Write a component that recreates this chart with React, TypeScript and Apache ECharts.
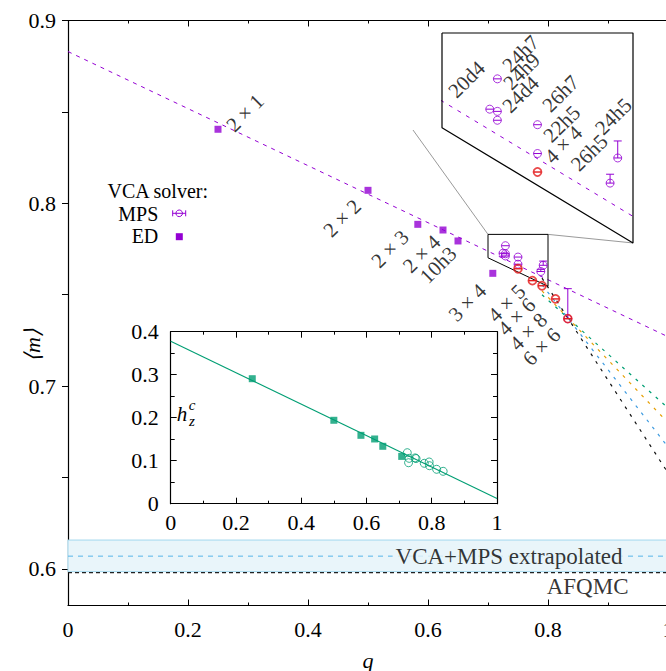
import React, { useEffect, useRef } from "react";
import * as echarts from "echarts";

const FONT = "Liberation Serif";
const PURPLE = "#9400d3";
const RED = "#e41a1c";
const GREEN = "#009e73";
const SKY = "#56b4e9";

// main panel: fit line through ED points
const fitQ = [0, 1];
const fitM = [0.883, 0.727];

// ED clusters
const edNames = ["2 × 1", "2 × 2", "2 × 3", "2 × 4", "10h3", "3 × 4"];
const edQ = [0.25, 0.5, 0.583, 0.625, 0.65, 0.708];
const edM = [0.8405, 0.8071, 0.7885, 0.7854, 0.7794, 0.7617];

// MPS clusters (purple)
const mpsNames = ["20d4", "24h7", "24h9", "24d4", "26h7", "22h5", "24h5", "26h5", "6 × 6"];
const mpsQ = [0.725, 0.729, 0.729, 0.729, 0.75, 0.75, 0.792, 0.788, 0.833];
const mpsM = [0.7727, 0.7768, 0.7724, 0.7712, 0.7706, 0.7667, 0.7661, 0.7627, 0.7369];
const mpsErr = [0, 0, 0, 0, 0, 0, 0.0023, 0.0012, 0.0164];

// rectangular MPS clusters (red)
const rectNames = ["4 × 4", "4 × 5", "4 × 6", "4 × 8", "6 × 6"];
const rectQ = [0.75, 0.774, 0.79, 0.8125, 0.833];
const rectM = [0.7642, 0.7577, 0.7549, 0.7477, 0.7369];

// extrapolation lines from q=0.79 to q=1
const extrapQ = [0.79, 1];
const extrapGreen = [0.75, 0.688];
const extrapOrange = [0.7521, 0.68];
const extrapBlue = [0.7555, 0.6667];
const extrapBlack = [0.7591, 0.6525];

// reference values
const bandLow = 0.5985;
const bandHigh = 0.6158;
const bandMid = 0.607;
const afqmc = 0.598;

// zoom box (same polygon in both coordinate systems)
const boxQ = [0.7, 0.8, 0.8, 0.7, 0.7];
const boxM = [0.783, 0.783, 0.7546, 0.7702, 0.783];
const conn1Q = [0.575, 0.7];
const conn1M = [0.8401, 0.783];
const conn2Q = [0.8, 0.9417];
const conn2M = [0.783, 0.7783];

// cluster labels (main panel)
const labText = ["2 × 1", "2 × 2", "2 × 3", "2 × 4", "10h3", "3 × 4", "4 × 5", "4 × 6", "4 × 8", "6 × 6"];
const labQ = [0.295, 0.457, 0.5367, 0.5895, 0.617, 0.6658, 0.7312, 0.7478, 0.7672, 0.7895];
const labM = [0.8494, 0.7918, 0.775, 0.7723, 0.7663, 0.7457, 0.7453, 0.738, 0.7298, 0.7216];

// cluster labels (zoomed inset)
const zLabText = ["20d4", "24h7", "24h9", "24d4", "26h7", "22h5", "4 × 4", "26h5", "24h5"];
const zLabQ = [0.7129, 0.7412, 0.7417, 0.7412, 0.7621, 0.7627, 0.7635, 0.7771, 0.7897];
const zLabM = [0.7767, 0.7802, 0.7778, 0.7747, 0.7748, 0.7707, 0.7679, 0.7668, 0.7717];

// lower inset: h_z^c vs q
const hzFitQ = [0, 1];
const hzFitV = [0.378, 0.012];
const hzEdQ = [0.25, 0.5, 0.583, 0.625, 0.65, 0.708];
const hzEdV = [0.2907, 0.194, 0.159, 0.1505, 0.1335, 0.11];
const hzMpsQ = [0.725, 0.731, 0.729, 0.749, 0.752, 0.777, 0.792, 0.793, 0.815, 0.835];
const hzMpsV = [0.1186, 0.1055, 0.0953, 0.1065, 0.105, 0.094, 0.097, 0.0884, 0.08, 0.0753];

const mainYLabels = [0.6, 0.7, 0.8, 0.9];
const mainYTicks = [0.6, 0.65, 0.7, 0.75, 0.8, 0.85, 0.9];

const zip = (a: number[], b: number[]) => a.map((v, i) => [v, b[i]]);

function fmt(v: number) {
  if (Math.abs(v) < 1e-9) return "0";
  if (Math.abs(v - 1) < 1e-9) return "1";
  return v.toFixed(1);
}

function inBox(q: number, m: number) {
  const bottom = boxM[3] + ((q - boxQ[0]) * (boxM[2] - boxM[3])) / (boxQ[1] - boxQ[0]);
  return q >= boxQ[0] && q <= boxQ[1] && m <= boxM[0] && m >= bottom;
}

function errRender(color: string, lw: number, cap: number) {
  return (params: any, api: any) => {
    const q = api.value(0);
    const m = api.value(1);
    const e = api.value(2);
    const p0 = api.coord([q, m]);
    const p1 = api.coord([q, m + e]);
    const style = { stroke: color, lineWidth: lw, fill: "none" };
    const children: any[] = [
      { type: "line", shape: { x1: p0[0] - cap, y1: p0[1], x2: p0[0] + cap, y2: p0[1] }, style },
    ];
    if (e > 0) {
      children.push({ type: "line", shape: { x1: p0[0], y1: p0[1], x2: p1[0], y2: p1[1] }, style });
      children.push({ type: "line", shape: { x1: p1[0] - cap, y1: p1[1], x2: p1[0] + cap, y2: p1[1] }, style });
    }
    return { type: "group", children };
  };
}

export default function App() {
  const ref = useRef<HTMLDivElement>(null);
  useEffect(() => {
    const chart = echarts.init(ref.current!, undefined, { renderer: "svg" });

    const tickLbl = { color: "#000", fontFamily: FONT, fontSize: 22 };
    const rotLbl = { color: "#000", fontFamily: FONT, fontSize: 21 };
    const black = { color: "#000", width: 1.2 };

    const lineS = (xi: number, data: number[][], ls: any, z = 3, clip = true) => ({
      type: "line",
      xAxisIndex: xi,
      yAxisIndex: xi,
      data,
      symbol: "none",
      showSymbol: false,
      silent: true,
      clip,
      z,
      lineStyle: ls,
    });

    const circleS = (xi: number, data: number[][], color: string, bw: number, z: number) => ({
      type: "scatter",
      xAxisIndex: xi,
      yAxisIndex: xi,
      data,
      symbol: "circle",
      symbolSize: 8,
      silent: true,
      z,
      itemStyle: { color: "rgba(0,0,0,0)", borderColor: color, borderWidth: bw },
    });

    const errS = (xi: number, data: number[][], color: string, lw: number, z: number) => ({
      type: "custom",
      xAxisIndex: xi,
      yAxisIndex: xi,
      data,
      silent: true,
      z,
      renderItem: errRender(color, lw, 4),
    });

    const labelS = (xi: number, text: string[], q: number[], m: number[]) => ({
      type: "scatter",
      xAxisIndex: xi,
      yAxisIndex: xi,
      symbolSize: 1,
      silent: true,
      z: 8,
      itemStyle: { color: "rgba(0,0,0,0)" },
      label: { show: true, position: "inside", rotate: 45, formatter: "{b}", ...rotLbl },
      data: text.map((t, i) => ({ name: t, value: [q[i], m[i]] })),
    });

    const mpsData = mpsQ.map((q, i) => [q, mpsM[i], mpsErr[i]]);
    const rectData = rectQ.map((q, i) => [q, rectM[i], 0]);
    const mpsIn = mpsData.filter((d) => inBox(d[0], d[1]));
    const rectIn = rectData.filter((d) => inBox(d[0], d[1]));

    const tickAxisX = (gi: number, pos: string, labels: boolean) => ({
      type: "value",
      gridIndex: gi,
      position: pos,
      min: 0,
      max: 1,
      interval: 0.2,
      axisLine: { show: true, onZero: false, lineStyle: black },
      axisTick: { show: true, inside: true, length: 6, lineStyle: { color: "#000" } },
      minorTick: { show: true, splitNumber: 2, length: 3, lineStyle: { color: "#000" } },
      axisLabel: { show: labels, formatter: fmt, margin: gi === 0 ? 13 : 8, ...tickLbl },
      splitLine: { show: false },
      minorSplitLine: { show: false },
    });

    const option: any = {
      animation: false,
      backgroundColor: "#fff",
      textStyle: { fontFamily: FONT },
      grid: [
        { left: 68, top: 20.5, width: 600, height: 585 },
        { left: 170.7, top: 331.7, width: 326.3, height: 172 },
        { left: 442, top: 33, width: 191, height: 210 },
      ],
      xAxis: [
        tickAxisX(0, "bottom", true),
        tickAxisX(1, "bottom", true),
        { type: "value", gridIndex: 2, min: 0.7, max: 0.8, show: false },
        tickAxisX(0, "top", false),
        tickAxisX(1, "top", false),
      ],
      yAxis: [
        {
          type: "value",
          gridIndex: 0,
          min: 0.58,
          max: 0.9,
          axisLine: { show: true, onZero: false, lineStyle: black },
          axisTick: { show: true, inside: false, length: 6, customValues: mainYTicks, lineStyle: { color: "#000" } },
          axisLabel: { customValues: mainYLabels, formatter: (v: number) => v.toFixed(1), margin: 12, ...tickLbl },
          splitLine: { show: false },
        },
        {
          type: "value",
          gridIndex: 1,
          min: 0,
          max: 0.4,
          interval: 0.1,
          axisLine: { show: true, onZero: false, lineStyle: black },
          axisTick: { show: true, inside: true, length: 6, lineStyle: { color: "#000" } },
          minorTick: { show: true, splitNumber: 2, length: 4, lineStyle: { color: "#000" } },
          axisLabel: { formatter: fmt, margin: 12, ...tickLbl },
          splitLine: { show: false },
          minorSplitLine: { show: false },
        },
        { type: "value", gridIndex: 2, min: 0.7546, max: 0.783, show: false },
        {
          type: "value",
          gridIndex: 1,
          position: "right",
          min: 0,
          max: 0.4,
          interval: 0.1,
          axisLine: { show: true, onZero: false, lineStyle: black },
          axisTick: { show: true, inside: true, length: 6, lineStyle: { color: "#000" } },
          minorTick: { show: true, splitNumber: 2, length: 4, lineStyle: { color: "#000" } },
          axisLabel: { show: false },
          splitLine: { show: false },
        },
      ],
      series: [
        // band + VCA+MPS extrapolated line
        {
          ...lineS(0, zip(fitQ, [bandMid, bandMid]), { color: SKY, width: 1, type: [5, 5] }, 2),
          markArea: {
            silent: true,
            itemStyle: { color: "#e9f5fa", borderColor: "#a3d8ee", borderWidth: 1 },
            data: [[{ yAxis: bandLow }, { yAxis: bandHigh }]],
          },
        },
        lineS(0, zip(fitQ, [afqmc, afqmc]), { color: "#222", width: 1.2, type: [4, 3] }, 2),
        // fit line
        lineS(0, zip(fitQ, fitM), { color: PURPLE, width: 1, type: [4, 5] }),
        // extrapolations
        lineS(0, zip(extrapQ, extrapGreen), { color: GREEN, width: 1.2, type: [3, 6] }),
        lineS(0, zip(extrapQ, extrapOrange), { color: "#e69f00", width: 1.2, type: [3, 6] }),
        lineS(0, zip(extrapQ, extrapBlue), { color: "#3d9be0", width: 1.2, type: [3, 6] }),
        lineS(0, zip(extrapQ, extrapBlack), { color: "#111", width: 1.2, type: [3, 6] }),
        // connectors and zoom box
        lineS(0, zip(conn1Q, conn1M), { color: "#9a9a9a", width: 1 }),
        lineS(0, zip(conn2Q, conn2M), { color: "#9a9a9a", width: 1 }),
        lineS(0, zip(boxQ, boxM), { color: "#000", width: 1 }, 4, false),
        // ED squares
        {
          type: "scatter",
          xAxisIndex: 0,
          yAxisIndex: 0,
          symbol: "rect",
          symbolSize: 7,
          silent: true,
          z: 5,
          itemStyle: { color: PURPLE },
          data: edQ.map((q, i) => ({ name: edNames[i], value: [q, edM[i]] })),
        },
        circleS(0, mpsData.map((d) => [d[0], d[1]]), PURPLE, 1, 5),
        errS(0, mpsData, PURPLE, 1, 5),
        circleS(0, rectData.map((d) => [d[0], d[1]]), RED, 1.7, 6),
        errS(0, rectData, RED, 1.4, 6),
        labelS(0, labText, labQ, labM),
        // band labels
        {
          type: "scatter",
          xAxisIndex: 0,
          yAxisIndex: 0,
          symbolSize: 1,
          silent: true,
          z: 7,
          itemStyle: { color: "rgba(0,0,0,0)" },
          label: {
            show: true,
            position: "left",
            distance: 0,
            formatter: "{b}",
            backgroundColor: "#e9f5fa",
            padding: [1, 3, 0, 3],
            color: "#000",
            fontFamily: FONT,
            fontSize: 23,
          },
          data: [
            { name: "VCA+MPS extrapolated", value: [0.93, bandMid] },
            { name: "AFQMC", value: [0.935, 0.5903], label: { backgroundColor: "transparent", padding: 0 } },
          ],
        },
        // lower inset
        lineS(1, zip(hzFitQ, hzFitV), { color: GREEN, width: 1.1 }),
        {
          type: "scatter",
          xAxisIndex: 1,
          yAxisIndex: 1,
          symbol: "rect",
          symbolSize: 7,
          silent: true,
          z: 5,
          itemStyle: { color: GREEN },
          data: zip(hzEdQ, hzEdV),
        },
        circleS(1, zip(hzMpsQ, hzMpsV), GREEN, 1, 5),
        // zoomed inset
        lineS(2, zip(boxQ, boxM), { color: "#000", width: 1.2 }, 4, false),
        lineS(2, zip(fitQ, fitM), { color: PURPLE, width: 1, type: [4, 6] }),
        circleS(2, mpsIn.map((d) => [d[0], d[1]]), PURPLE, 1, 5),
        errS(2, mpsIn, PURPLE, 1, 5),
        circleS(2, rectIn.map((d) => [d[0], d[1]]), RED, 1.7, 6),
        errS(2, rectIn, RED, 1.4, 6),
        labelS(2, zLabText, zLabQ, zLabM),
      ],
      graphic: [
        { type: "text", x: 208, y: 191.2, style: { text: "VCA solver:", font: `20px ${FONT}`, fill: "#000", textAlign: "right", textVerticalAlign: "middle" } },
        { type: "text", x: 158.3, y: 213.5, style: { text: "MPS", font: `20px ${FONT}`, fill: "#000", textAlign: "right", textVerticalAlign: "middle" } },
        { type: "text", x: 158.3, y: 236, style: { text: "ED", font: `20px ${FONT}`, fill: "#000", textAlign: "right", textVerticalAlign: "middle" } },
        { type: "line", shape: { x1: 172.7, y1: 213.3, x2: 185.7, y2: 213.3 }, style: { stroke: PURPLE, lineWidth: 1 } },
        { type: "line", shape: { x1: 172.7, y1: 210.3, x2: 172.7, y2: 216.3 }, style: { stroke: PURPLE, lineWidth: 1 } },
        { type: "line", shape: { x1: 185.7, y1: 210.3, x2: 185.7, y2: 216.3 }, style: { stroke: PURPLE, lineWidth: 1 } },
        { type: "circle", shape: { cx: 179.2, cy: 213.3, r: 3.3 }, style: { stroke: PURPLE, fill: "none", lineWidth: 1 } },
        { type: "rect", shape: { x: 175.8, y: 233.2, width: 7, height: 7 }, style: { fill: PURPLE } },
        { type: "text", x: 32, y: 345, rotation: Math.PI / 2, style: { text: "⟨m⟩", font: `italic 22px ${FONT}`, fill: "#000", textAlign: "center", textVerticalAlign: "middle" } },
        { type: "text", x: 368, y: 660, style: { text: "q", font: `italic 22px ${FONT}`, fill: "#000", textAlign: "center", textVerticalAlign: "middle" } },
        { type: "text", x: 182, y: 414, style: { text: "h", font: `italic 21px ${FONT}`, fill: "#000", textAlign: "center", textVerticalAlign: "middle" } },
        { type: "text", x: 192, y: 405, style: { text: "c", font: `italic 15px ${FONT}`, fill: "#000", textAlign: "center", textVerticalAlign: "middle" } },
        { type: "text", x: 192, y: 421, style: { text: "z", font: `italic 15px ${FONT}`, fill: "#000", textAlign: "center", textVerticalAlign: "middle" } },
      ],
    };

    chart.setOption(option);
    return () => chart.dispose();
  }, []);

  return (
    <div style={{ position: "fixed", left: 0, top: 0, width: 666, height: 671, overflow: "hidden", background: "#fff" }}>
      <div ref={ref} style={{ width: 700, height: 671 }} />
    </div>
  );
}
